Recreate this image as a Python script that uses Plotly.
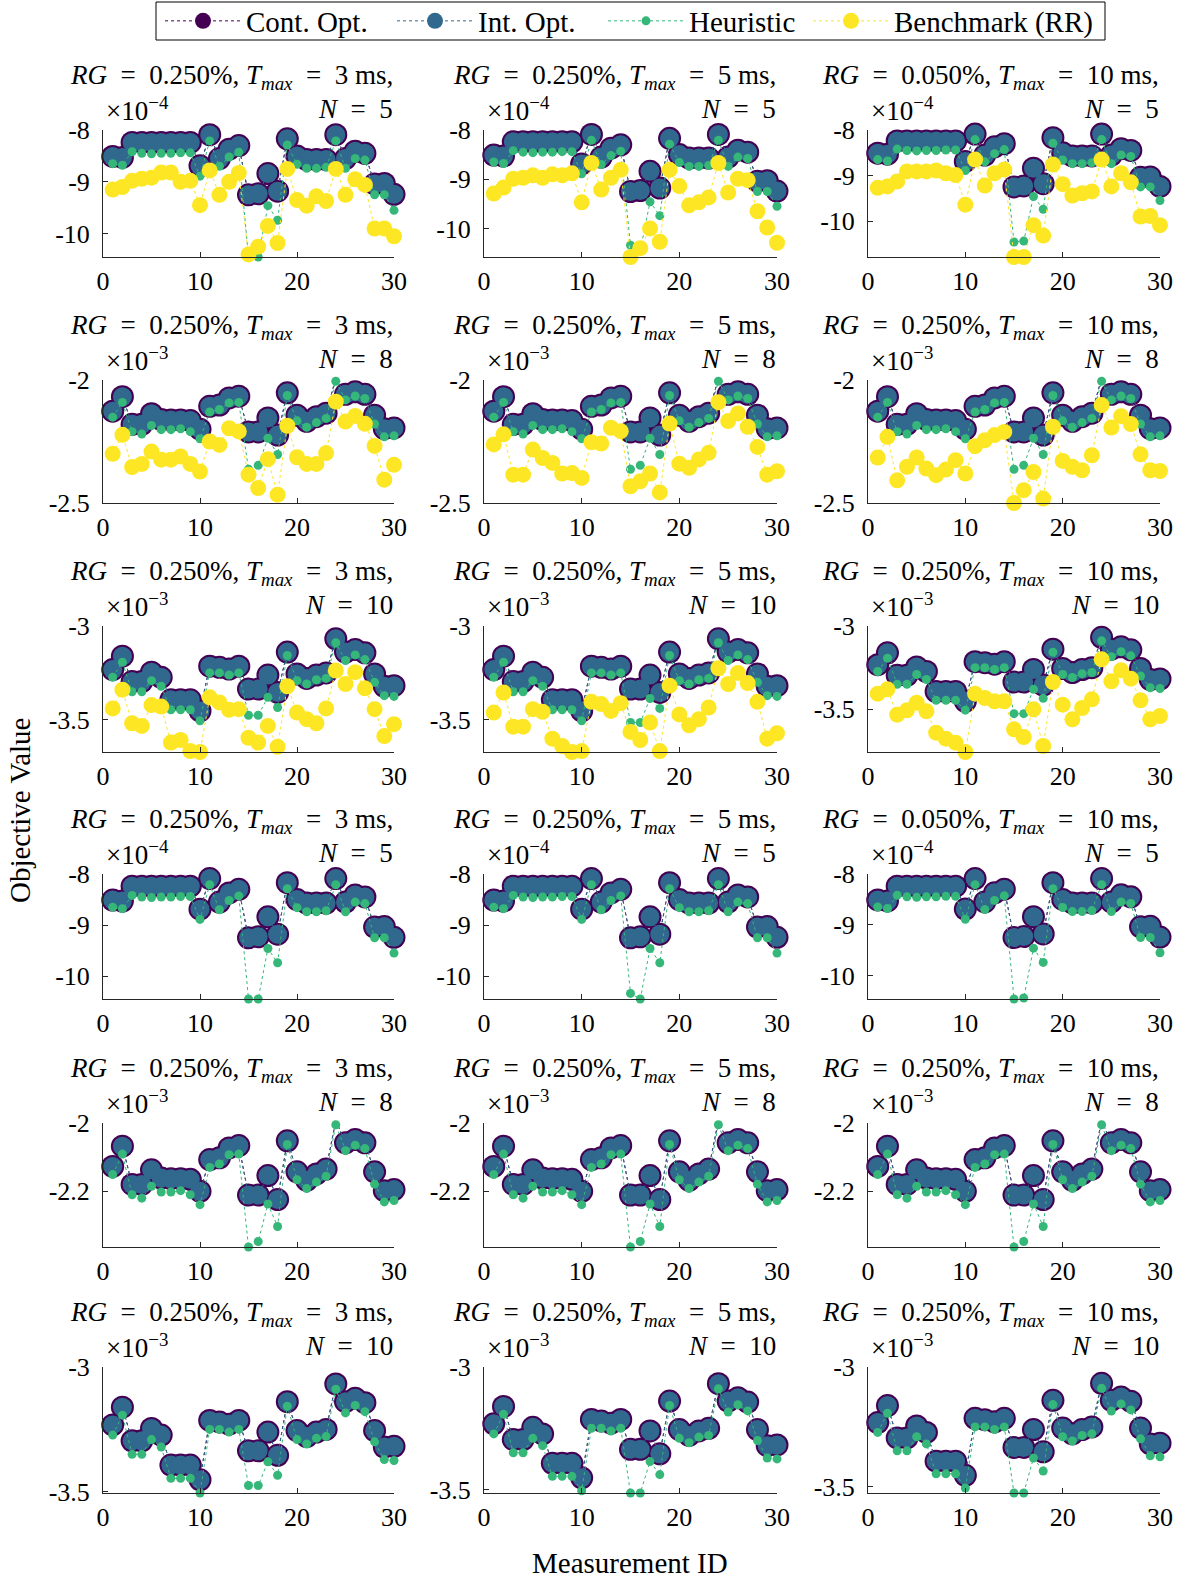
import plotly.graph_objects as go

# ---------------------------------------------------------------- data
measurement_id = list(range(1, 31))

# Optimal objective values (scaled units, see the exponent label of each panel)
cont_opt_n5 = [-8.51, -8.53, -8.24, -8.24, -8.24, -8.24, -8.24, -8.24, -8.24, -8.69,
               -8.09, -8.55, -8.37, -8.30, -9.25, -9.23, -8.84, -9.18, -8.17, -8.50,
               -8.57, -8.57, -8.57, -8.09, -8.55, -8.41, -8.45, -9.04, -9.03, -9.24]
int_opt_n5 = [-8.51, -8.53, -8.24, -8.24, -8.24, -8.24, -8.24, -8.24, -8.24, -8.69,
              -8.09, -8.55, -8.37, -8.30, -9.25, -9.23, -8.84, -9.18, -8.17, -8.50,
              -8.57, -8.57, -8.57, -8.09, -8.55, -8.41, -8.45, -9.04, -9.03, -9.24]
heuristic_n5 = [-8.65, -8.68, -8.42, -8.45, -8.46, -8.45, -8.45, -8.44, -8.44, -8.89,
                -8.21, -8.70, -8.52, -8.43, -10.45, -10.45, -9.46, -9.74, -8.29, -8.66,
                -8.74, -8.74, -8.72, -8.21, -8.74, -8.55, -8.58, -9.25, -9.25, -9.55]

cont_opt_n8 = [-2.127, -2.068, -2.180, -2.180, -2.137, -2.161, -2.163, -2.163, -2.165, -2.200,
               -2.107, -2.102, -2.073, -2.066, -2.211, -2.211, -2.154, -2.224, -2.052, -2.143,
               -2.168, -2.149, -2.135, -1.993, -2.058, -2.048, -2.058, -2.143, -2.198, -2.195]
int_opt_n8 = [-2.127, -2.068, -2.180, -2.180, -2.137, -2.161, -2.163, -2.163, -2.165, -2.200,
              -2.107, -2.102, -2.073, -2.066, -2.211, -2.211, -2.154, -2.224, -2.052, -2.143,
              -2.168, -2.149, -2.135, -1.993, -2.058, -2.048, -2.058, -2.143, -2.198, -2.195]
heuristic_n8 = [-2.151, -2.091, -2.210, -2.220, -2.185, -2.202, -2.202, -2.198, -2.210, -2.239,
                -2.130, -2.120, -2.093, -2.091, -2.363, -2.347, -2.237, -2.303, -2.063, -2.166,
                -2.192, -2.173, -2.156, -2.005, -2.081, -2.065, -2.075, -2.179, -2.231, -2.227]

cont_opt_n10 = [-3.232, -3.161, -3.296, -3.296, -3.246, -3.273, -3.393, -3.393, -3.393, -3.452,
                -3.214, -3.220, -3.229, -3.214, -3.336, -3.336, -3.261, -3.354, -3.139, -3.255,
                -3.279, -3.261, -3.250, -3.068, -3.139, -3.125, -3.143, -3.255, -3.321, -3.318]
int_opt_n10 = [-3.232, -3.161, -3.296, -3.296, -3.246, -3.273, -3.393, -3.393, -3.393, -3.452,
               -3.214, -3.220, -3.229, -3.214, -3.336, -3.336, -3.261, -3.354, -3.139, -3.255,
               -3.279, -3.261, -3.250, -3.068, -3.139, -3.125, -3.143, -3.255, -3.321, -3.318]
heuristic_n10 = [-3.273, -3.193, -3.350, -3.350, -3.291, -3.321, -3.446, -3.446, -3.446, -3.505,
                 -3.250, -3.250, -3.261, -3.250, -3.475, -3.475, -3.380, -3.434, -3.157, -3.291,
                 -3.309, -3.286, -3.279, -3.089, -3.184, -3.154, -3.179, -3.300, -3.371, -3.375]

# Heuristic values that differ between the time budgets (column index -> {ID: value})
heuristic_changes = {
    5: {0: {}, 1: {15: -10.34}, 2: {15: -10.46, 16: -10.44}},
    8: {0: {}, 1: {}, 2: {}},
    10: {0: {}, 1: {15: -3.514, 16: -3.514, 17: -3.386, 18: -3.439},
         2: {15: -3.526, 16: -3.526}},
}

# Round-robin benchmark, one list per (N, column)
bench_n5_t3 = [-9.15, -9.10, -8.98, -8.94, -8.92, -8.82, -8.82, -9.00, -8.98, -9.45,
               -8.78, -9.25, -9.00, -8.83, -10.40, -10.25, -9.85, -10.18, -8.75, -9.35,
               -9.46, -9.28, -9.37, -8.75, -9.25, -8.95, -9.06, -9.90, -9.90, -10.05]
bench_n5_t5 = [-9.29, -9.17, -8.99, -8.97, -8.92, -8.97, -8.90, -8.92, -8.88, -9.47,
               -8.67, -9.21, -8.97, -8.81, -10.58, -10.40, -10.00, -10.27, -8.81, -9.14,
               -9.53, -9.47, -9.37, -8.67, -9.27, -8.99, -9.02, -9.65, -9.98, -10.29]
bench_n5_t10 = [-9.27, -9.24, -9.13, -8.91, -8.91, -8.91, -8.89, -8.95, -8.99, -9.64,
                -8.65, -9.22, -8.95, -8.87, -10.79, -10.79, -10.09, -10.32, -8.76, -9.19,
                -9.44, -9.39, -9.35, -8.65, -9.24, -8.95, -9.15, -9.90, -9.89, -10.09]
bench_n8_t3 = [-2.300, -2.223, -2.354, -2.341, -2.291, -2.324, -2.324, -2.311, -2.341, -2.372,
               -2.250, -2.264, -2.196, -2.209, -2.385, -2.439, -2.322, -2.466, -2.186, -2.314,
               -2.341, -2.341, -2.297, -2.088, -2.169, -2.146, -2.178, -2.268, -2.405, -2.345]
bench_n8_t5 = [-2.262, -2.221, -2.385, -2.385, -2.283, -2.317, -2.337, -2.380, -2.378, -2.398,
               -2.253, -2.258, -2.194, -2.208, -2.432, -2.412, -2.380, -2.457, -2.177, -2.340,
               -2.357, -2.323, -2.296, -2.090, -2.167, -2.136, -2.190, -2.272, -2.385, -2.371]
bench_n8_t10 = [-2.315, -2.231, -2.408, -2.353, -2.315, -2.360, -2.387, -2.364, -2.326, -2.380,
                -2.269, -2.245, -2.224, -2.211, -2.500, -2.448, -2.374, -2.482, -2.190, -2.329,
                -2.353, -2.367, -2.306, -2.102, -2.193, -2.147, -2.179, -2.302, -2.367, -2.370]
bench_n10_t3 = [-3.439, -3.339, -3.518, -3.532, -3.421, -3.429, -3.621, -3.607, -3.666, -3.671,
                -3.380, -3.407, -3.446, -3.443, -3.595, -3.621, -3.532, -3.643, -3.321, -3.461,
                -3.496, -3.518, -3.439, -3.237, -3.309, -3.246, -3.332, -3.443, -3.586, -3.523]
bench_n10_t5 = [-3.461, -3.354, -3.536, -3.536, -3.443, -3.457, -3.600, -3.639, -3.671, -3.666,
                -3.404, -3.416, -3.452, -3.411, -3.564, -3.607, -3.514, -3.666, -3.318, -3.471,
                -3.529, -3.496, -3.434, -3.225, -3.309, -3.250, -3.304, -3.404, -3.600, -3.571]
bench_n10_t10 = [-3.406, -3.380, -3.532, -3.506, -3.460, -3.512, -3.640, -3.676, -3.700, -3.756,
                 -3.406, -3.432, -3.452, -3.452, -3.620, -3.666, -3.500, -3.720, -3.336, -3.472,
                 -3.560, -3.492, -3.440, -3.200, -3.332, -3.266, -3.316, -3.446, -3.560, -3.540]

# Panel parameters
rg_labels = [["0.250%", "0.250%", "0.050%"],
             ["0.250%", "0.250%", "0.250%"],
             ["0.250%", "0.250%", "0.250%"]]
tmax_labels = ["3", "5", "10"]
n_values = [5, 8, 10]
exponents = {5: "\u22124", 8: "\u22123", 10: "\u22123"}

# y ticks: with benchmark (rows 1-3) and without benchmark (rows 4-6)
ytick_vals = {(5, True): [-10, -9, -8], (8, True): [-2.5, -2], (10, True): [-3.5, -3],
              (5, False): [-10, -9, -8], (8, False): [-2.2, -2], (10, False): [-3.5, -3]}
ytick_text = {(5, True): ["-10", "-9", "-8"], (8, True): ["-2.5", "-2"], (10, True): ["-3.5", "-3"],
              (5, False): ["-10", "-9", "-8"], (8, False): ["-2.2", "-2"], (10, False): ["-3.5", "-3"]}
y_top = {5: -8, 8: -2, 10: -3}
y_floor = {(5, True): 0, (8, True): -2.5, (10, True): 0,
           (5, False): 0, (8, False): 0, (10, False): 0}

xtick_vals = [0, 10, 20, 30]
xtick_text = ["0", "10", "20", "30"]

cont_opt = {5: cont_opt_n5, 8: cont_opt_n8, 10: cont_opt_n10}
int_opt = {5: int_opt_n5, 8: int_opt_n8, 10: int_opt_n10}
heuristic = {5: heuristic_n5, 8: heuristic_n8, 10: heuristic_n10}
benchmark = {5: [bench_n5_t3, bench_n5_t5, bench_n5_t10],
             8: [bench_n8_t3, bench_n8_t5, bench_n8_t10],
             10: [bench_n10_t3, bench_n10_t5, bench_n10_t10]}

series_names = ["Cont. Opt.", "Int. Opt.", "Heuristic", "Benchmark (RR)"]

# ---------------------------------------------------------------- layout geometry (px)
W, H = 1188, 1580
col_px = [(103, 394), (484, 777), (868, 1160)]
row_px = [(130, 257), (380, 503), (626, 752), (874, 999), (1123, 1247), (1367, 1493)]
legend_marker_px = [203, 435, 646, 851]
legend_box_px = (156, 2, 1105, 40)

FONT = "Liberation Serif"
AXIS_COLOR = "#262626"
colors = {"Cont. Opt.": "#440154", "Int. Opt.": "#31688e",
          "Heuristic": "#35b779", "Benchmark (RR)": "#fde725"}
sizes = {"Cont. Opt.": 23, "Int. Opt.": 19, "Heuristic": 9, "Benchmark (RR)": 16}
legend_ids = {name: ("legend" if i == 0 else f"legend{i + 1}")
              for i, name in enumerate(series_names)}

fig = go.Figure()
annotations = []
layout_axes = {}
SP = "\u2002"  # wider space, as math spacing around relations

for r in range(6):
    with_bench = r < 3
    n = n_values[r % 3]
    for c in range(3):
        k = r * 3 + c + 1
        xa = "x" if k == 1 else f"x{k}"
        ya = "y" if k == 1 else f"y{k}"

        heur = list(heuristic[n])
        for mid, val in heuristic_changes[n][c].items():
            heur[mid - 1] = val

        series = [("Cont. Opt.", cont_opt[n]), ("Int. Opt.", int_opt[n]), ("Heuristic", heur)]
        if with_bench:
            series.append(("Benchmark (RR)", benchmark[n][c]))

        for name, vals in series:
            fig.add_trace(go.Scatter(
                x=measurement_id, y=vals, name=name, legendgroup=name,
                legend=legend_ids[name], showlegend=(k == 1),
                mode="lines+markers", cliponaxis=False,
                line=dict(color=colors[name], width=1, dash="dot"),
                marker=dict(color=colors[name], size=sizes[name], line=dict(width=0)),
                xaxis=xa, yaxis=ya))

        data_min = min(min(vals) for _, vals in series)
        y_lo = min(data_min, y_floor[(n, with_bench)])
        x0, x1 = col_px[c]
        top, bot = row_px[r]

        layout_axes["xaxis" if k == 1 else f"xaxis{k}"] = dict(
            domain=[x0 / W, x1 / W], range=[0, 30], anchor=ya, automargin=False,
            tickvals=xtick_vals, ticktext=xtick_text, ticks="inside", ticklen=5,
            tickcolor=AXIS_COLOR, showline=True, linecolor=AXIS_COLOR, linewidth=1,
            showgrid=False, zeroline=False, ticklabelstandoff=1,
            tickfont=dict(family=FONT, size=26, color="black"))
        layout_axes["yaxis" if k == 1 else f"yaxis{k}"] = dict(
            domain=[1 - bot / H, 1 - top / H], range=[y_lo, y_top[n]], anchor=xa,
            automargin=False,
            tickvals=ytick_vals[(n, with_bench)], ticktext=ytick_text[(n, with_bench)],
            ticks="inside", ticklen=5, tickcolor=AXIS_COLOR, showline=True,
            linecolor=AXIS_COLOR, linewidth=1, showgrid=False, zeroline=False,
            ticklabelstandoff=7, tickfont=dict(family=FONT, size=26, color="black"))

        title_font = dict(family=FONT, size=27, color="black")
        right = (x1 + 1) / W
        annotations.append(dict(
            text=(f"<i>RG</i>{SP}={SP}{rg_labels[r % 3][c]}, <i>T</i><sub><i>max</i></sub>"
                  f"{SP}={SP}{tmax_labels[c]} ms,"),
            xref="paper", yref="paper", x=right, y=1 - (top - 53) / H,
            xanchor="right", yanchor="middle", showarrow=False, font=title_font))
        annotations.append(dict(
            text=f"<i>N</i>{SP}={SP}{n}", xref="paper", yref="paper",
            x=right, y=1 - (top - 21) / H, xanchor="right", yanchor="middle",
            showarrow=False, font=title_font))
        annotations.append(dict(
            text=f"×10<sup>{exponents[n]}</sup>", xref="paper", yref="paper",
            x=(x0 + 1) / W, y=1 - (top - 21) / H, xanchor="left", yanchor="middle",
            showarrow=False, font=title_font))

annotations.append(dict(text="Objective Value", xref="paper", yref="paper",
                        x=20 / W, y=1 - 811 / H, textangle=-90, showarrow=False,
                        xanchor="center", yanchor="middle",
                        font=dict(family=FONT, size=29, color="black")))
annotations.append(dict(text="Measurement ID", xref="paper", yref="paper",
                        x=630 / W, y=1 - 1563 / H, showarrow=False,
                        xanchor="center", yanchor="middle",
                        font=dict(family=FONT, size=29, color="black")))

# one legend per series, placed along a single framed strip
legends = {}
for i, name in enumerate(series_names):
    legends[legend_ids[name]] = dict(
        orientation="h", x=(legend_marker_px[i] - 43) / W, xanchor="left",
        y=1 - (legend_box_px[1] + legend_box_px[3]) / 2 / H, yanchor="middle",
        borderwidth=0, bgcolor="rgba(0,0,0,0)", itemwidth=76,
        font=dict(family=FONT, size=29, color="black"))

bx0, by0, bx1, by1 = legend_box_px
fig.update_layout(
    width=W, height=H, margin=dict(l=0, r=0, t=0, b=0, autoexpand=False),
    paper_bgcolor="white", plot_bgcolor="white",
    font=dict(family=FONT, size=26, color="black"),
    annotations=annotations,
    shapes=[dict(type="rect", xref="paper", yref="paper",
                 x0=bx0 / W, x1=bx1 / W, y0=1 - by1 / H, y1=1 - by0 / H,
                 line=dict(color="black", width=1), fillcolor="white", layer="below")],
    **legends,
    **layout_axes,
)

fig.write_html("out.html")
